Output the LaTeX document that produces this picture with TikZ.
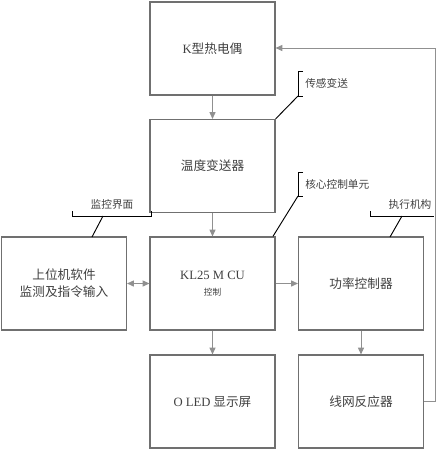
\documentclass[tikz,border=0pt]{standalone}
\usepackage{fontspec}
\setmainfont{Liberation Serif}
\newfontfamily\cjk{Noto Sans CJK SC}
\usetikzlibrary{positioning,arrows.meta}
\definecolor{boxgray}{HTML}{707070}
\definecolor{arrgray}{HTML}{909090}
\definecolor{txtgray}{HTML}{404040}
\tikzset{
  blk/.style={draw=boxgray,line width=0.9pt,minimum width=93.75pt,minimum height=69.75pt,
    align=center,text=txtgray,font=\cjk\fontsize{9.5}{13}\selectfont,inner sep=0pt},
  arr/.style={draw=arrgray,line width=0.6pt,-{Triangle[length=5pt,width=4.5pt]}},
  call/.style={draw=black,line width=0.7pt},
  tag/.style={text=txtgray,font=\cjk\fontsize{8}{10}\selectfont,inner sep=0pt}
}
\begin{document}
\begin{tikzpicture}[x=0.75pt,y=-0.75pt]
\useasboundingbox (0,0) rectangle (445,450);
% boxes
\node[blk] (tc) at (212.5,48.5) {{\rmfamily K}型热电偶};
\node[blk] (ts) at (212.5,166) {温度变送器};
\node[blk] (pcs) at (64,283.5) {上位机软件\\监测及指令输入};
\node[blk] (mcu) at (212.5,283.5) {{\rmfamily KL25 M CU}\\[-1pt]{\fontsize{6.5}{8}\selectfont 控制}};
\node[blk] (pwr) at (361,283.5) {功率控制器};
\node[blk] (oled) at (212.5,401.5) {{\rmfamily O LED} 显示屏};
\node[blk] (rx) at (361,401.5) {线网反应器};

% signal flow
\draw[arr] (tc) -- (ts);
\draw[arr] (ts) -- (mcu);
\draw[arr,{Triangle[length=5pt,width=4.5pt]}-{Triangle[length=5pt,width=4.5pt]}] (pcs) -- (mcu);
\draw[arr] (mcu) -- (pwr);
\draw[arr] (mcu) -- (oled);
\draw[arr] (pwr) -- (rx);
\coordinate (fb) at (435,48);
\draw[arr] (rx.east) -| (fb) -- (tc.east |- fb);

% callouts
\draw[call] (303,71) -- (298,71) -- (298,96) -- (303,96);
\draw[call] (298,96) -- (ts.north east);
\node[tag,anchor=west] (l1) at (305,83) {传感变送};
\draw[call] (303,172) -- (298,172) -- (298,196) -- (303,196);
\draw[call] (298,196) -- ([xshift=-2pt]mcu.north east);
\node[tag,anchor=west] (l2) at (305,184) {核心控制单元};
\draw[call] (72,211) -- (72,216) -- (151,216) -- (151,211);
\draw[call] (103,216) -- (92,237);
\node[tag] (l3) at (112,204) {监控界面};
\draw[call] (370,211) -- (370,216) -- (434,216);
\draw[call] (402,216) -- (390,237);
\node[tag] (l4) at (410,204) {执行机构};
\end{tikzpicture}
\end{document}
